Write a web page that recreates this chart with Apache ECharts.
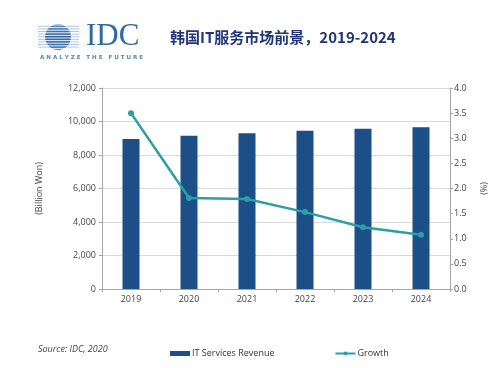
<!DOCTYPE html>
<html>
<head>
<meta charset="utf-8">
<script src="https://cdn.jsdelivr.net/npm/echarts@6/dist/echarts.min.js"></script>
<style>html,body{margin:0;padding:0;background:#fff;}#c{width:500px;height:368px;}</style>
</head>
<body>
<div id="c"></div>
<script>
var years = ['2019', '2020', '2021', '2022', '2023', '2024'];
var revenue = [8950, 9150, 9300, 9450, 9570, 9650];
var growth = [3.5, 1.81, 1.79, 1.53, 1.23, 1.08];
var leftTicks = [0, 2000, 4000, 6000, 8000, 10000, 12000];
var rightTicks = [0, 0.5, 1, 1.5, 2, 2.5, 3, 3.5, 4];

var chart = echarts.init(document.getElementById('c'), null, {renderer: 'canvas'});

var logo = [];
var cx = 58, cy = 37, r = 13;
logo.push({type: 'circle', shape: {cx: cx, cy: cy, r: r}, style: {fill: {type: 'linear', x: 0, y: 0, x2: 0, y2: 1, colorStops: [{offset: 0, color: '#5f8bbb'}, {offset: 0.5, color: '#2f62a0'}, {offset: 1, color: '#4a7cb0'}]}}});
for (var i = 0; i < 10; i++) {
  var yy = 25 + i * 2.6;
  logo.push({type: 'line', shape: {x1: 38, y1: yy, x2: 78, y2: yy}, style: {stroke: '#ffffff', lineWidth: 0.9}});
}
for (var j = 0; j < 9; j++) {
  var y2 = 26.3 + j * 2.6;
  var dy = y2 - cy;
  if (Math.abs(dy) < r) {
    var hw = Math.sqrt(r * r - dy * dy);
    logo.push({type: 'line', shape: {x1: 38, y1: y2, x2: cx - hw, y2: y2}, style: {stroke: '#9fb8d4', lineWidth: 0.8}});
    logo.push({type: 'line', shape: {x1: cx + hw, y1: y2, x2: 79, y2: y2}, style: {stroke: '#9fb8d4', lineWidth: 0.8}});
  }
}
logo.push({type: 'text', left: 86, top: 21, style: {text: 'IDC', font: '31px "Liberation Serif", serif', fill: '#2f6aa3'}});
logo.push({type: 'text', left: 40, top: 55, style: {text: 'A N A L Y Z E   T H E   F U T U R E', font: 'bold 5.6px "DejaVu Sans", sans-serif', fill: '#5a84b0'}});

var option = {
  backgroundColor: '#ffffff',
  animation: false,
  textStyle: {fontFamily: '"Open Sans", "Noto Sans", sans-serif'},
  grid: {left: 102, right: 50, top: 88, bottom: 79},
  legend: {
    left: 165, top: 344, itemGap: 60, itemWidth: 20, itemHeight: 5,
    textStyle: {fontSize: 9, color: '#333', padding: [0, 0, 0, -3]},
    data: [
      {name: 'IT Services Revenue', icon: 'rect'},
      {name: 'Growth'}
    ]
  },
  graphic: logo.concat([
    {type: 'text', left: 170, top: 30, style: {text: '韩国IT服务市场前景，2019-2024', font: 'bold 15px "Noto Sans CJK SC", sans-serif', fill: '#1f3578'}},
    {type: 'text', left: 38, top: 345, style: {text: 'Source: IDC, 2020', font: 'italic 9px "Open Sans", sans-serif', fill: '#444'}}
  ]),
  xAxis: {
    type: 'category', data: years,
    axisLine: {lineStyle: {color: '#a6a6a6'}},
    axisTick: {show: true, length: 3, lineStyle: {color: '#a6a6a6'}},
    axisLabel: {fontSize: 9, color: '#444', margin: 6}
  },
  yAxis: [{
    type: 'value', min: 0, max: 12000, interval: 2000,
    name: '(Billion Won)', nameLocation: 'middle', nameGap: 58, nameRotate: 90,
    nameTextStyle: {fontSize: 9, color: '#444'},
    axisLine: {show: true, lineStyle: {color: '#a6a6a6'}},
    axisTick: {show: true, length: 3, lineStyle: {color: '#a6a6a6'}},
    axisLabel: {fontSize: 9, color: '#444', margin: 6, formatter: function (v) { return v.toLocaleString('en-US'); }},
    splitLine: {lineStyle: {color: '#d9d9d9'}}
  }, {
    type: 'value', min: 0, max: 4, interval: 0.5,
    name: '(%)', nameLocation: 'middle', nameGap: 30, nameRotate: 90,
    nameTextStyle: {fontSize: 9, color: '#444'},
    axisLine: {show: true, lineStyle: {color: '#a6a6a6'}},
    axisTick: {show: true, length: 3, lineStyle: {color: '#a6a6a6'}},
    axisLabel: {fontSize: 9, color: '#444', margin: 4, formatter: function (v) { return v.toFixed(1); }},
    splitLine: {show: false}
  }],
  series: [{
    name: 'IT Services Revenue', type: 'bar', data: revenue, barWidth: 17,
    itemStyle: {color: '#1c4e88'}
  }, {
    name: 'Growth', type: 'line', yAxisIndex: 1, data: growth,
    symbol: 'circle', symbolSize: 6,
    lineStyle: {color: '#2a9fa6', width: 2.5},
    itemStyle: {color: '#2a9fa6'}
  }]
};
chart.setOption(option);
</script>
</body>
</html>
